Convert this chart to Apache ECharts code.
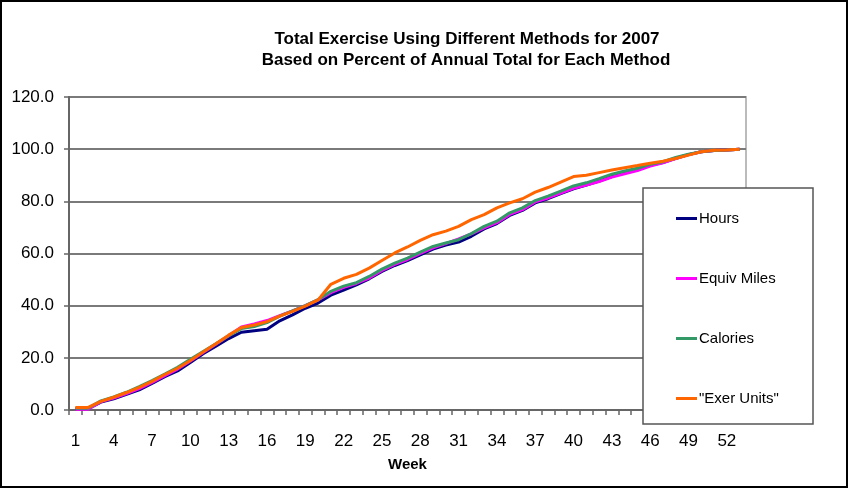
<!DOCTYPE html>
<html>
<head>
<meta charset="utf-8">
<script src="https://cdn.jsdelivr.net/npm/echarts@6/dist/echarts.min.js"></script>
<style>
html,body{margin:0;padding:0;background:#fff;}
#c{width:848px;height:488px;}
</style>
</head>
<body>
<div id="c"></div>
<script>
var weeks = ['1','2','3','4','5','6','7','8','9','10','11','12','13','14','15','16','17','18','19','20','21','22','23','24','25','26','27','28','29','30','31','32','33','34','35','36','37','38','39','40','41','42','43','44','45','46','47','48','49','50','51','52','53'];
var hours = [0.5,0.5,3.0,4.3,6.0,7.7,10.2,12.8,15.0,18.2,21.6,24.5,27.4,29.8,30.4,31.0,34.2,36.5,39.0,41.0,44.0,46.0,48.0,50.3,53.1,55.4,57.3,59.5,61.7,63.2,64.4,66.6,69.4,71.5,74.6,76.5,79.4,81.0,83.0,84.8,86.2,87.8,89.5,91.0,92.3,93.8,94.9,96.5,97.9,99.0,99.5,99.7,100.0];
var equivMiles = [0.3,0.3,3.2,4.6,6.3,8.2,10.6,13.2,15.7,18.8,22.0,25.2,28.5,31.8,33.0,34.3,36.2,38.0,40.0,42.2,45.0,47.0,48.5,50.6,53.5,55.8,57.7,60.0,62.2,63.8,65.6,67.5,69.8,71.8,75.0,76.8,79.8,81.3,83.2,85.0,86.2,87.6,89.3,90.6,91.8,93.5,94.8,96.4,97.9,99.0,99.5,99.7,100.0];
var calories = [0.7,0.7,3.5,5.0,6.8,9.0,11.3,13.8,16.4,19.4,22.4,25.4,28.5,31.2,32.0,33.5,36.0,38.0,40.0,42.3,45.5,47.5,48.8,51.2,54.0,56.3,58.2,60.5,62.7,64.0,65.3,67.6,70.4,72.4,75.6,77.5,80.3,82.0,83.9,85.9,87.1,88.7,90.4,91.6,92.7,94.2,95.2,96.8,98.1,99.0,99.5,99.7,100.0];
var exerUnits = [1.0,1.0,3.3,4.9,6.7,8.7,11.0,13.6,16.0,19.0,22.2,25.4,28.7,31.6,32.6,33.9,36.0,37.8,39.8,42.2,48.2,50.5,52.0,54.4,57.3,60.2,62.5,65.0,67.2,68.6,70.4,73.0,74.9,77.5,79.4,81.0,83.5,85.3,87.4,89.5,90.0,91.0,92.0,92.9,93.7,94.6,95.4,96.4,97.7,99.0,99.6,99.7,100.0];
var seriesNames = ['Hours','Equiv Miles','Calories','"Exer Units"'];
var seriesColors = ['#000080','#ff00ff','#339966','#ff6600'];
var titleLines = ['Total Exercise Using Different Methods for 2007','Based on Percent of Annual Total for Each Method'];

var FONT = '"Liberation Sans", Arial, Helvetica, sans-serif';
var chart = echarts.init(document.getElementById('c'), null, {renderer:'canvas'});
var dataSets = [hours, equivMiles, calories, exerUnits];
var series = dataSets.map(function(d,i){
  return {
    name: seriesNames[i], type:'line', data:d, symbol:'none', smooth:false,
    lineStyle:{color:seriesColors[i], width:3}, itemStyle:{color:seriesColors[i]},
    z: 2+i
  };
});
chart.setOption({
  animation:false,
  backgroundColor:'#ffffff',
  textStyle:{fontFamily:FONT},
  grid:{left:69, right:102, top:97, bottom:78, show:true, borderColor:'#bbbbbb', borderWidth:2, backgroundColor:'transparent'},
  xAxis:{
    type:'category', data:weeks, boundaryGap:true,
    name:'Week', nameLocation:'middle', nameGap:47,
    nameTextStyle:{fontFamily:FONT, fontSize:15, fontWeight:'bold', color:'#000'},
    axisLine:{lineStyle:{color:'#666666', width:2}},
    axisTick:{show:true, interval:0, length:5, lineStyle:{color:'#666666', width:1.5}},
    axisLabel:{interval:2, margin:23, fontFamily:FONT, fontSize:17, color:'#000'},
    splitLine:{show:false}
  },
  yAxis:{
    type:'value', min:0, max:120, interval:20,
    axisLine:{show:true, lineStyle:{color:'#666666', width:2}},
    axisTick:{show:true, length:5, lineStyle:{color:'#666666', width:1.5}},
    axisLabel:{margin:15, fontFamily:FONT, fontSize:17, color:'#000', formatter:function(v){return v.toFixed(1);}},
    splitLine:{show:true, lineStyle:{color:'#7a7a7a', width:2}}
  },
  legend:{
    orient:'vertical', left:676, top:211, padding:0, itemGap:45,
    itemWidth:21, itemHeight:3, icon:'rect',
    textStyle:{fontFamily:FONT, fontSize:15, color:'#000', lineHeight:15, padding:[0,0,0,-3]},
    data:seriesNames, z:101
  },
  graphic:[
    {type:'rect', z:100, shape:{x:643, y:188, width:170, height:236}, style:{fill:'#fff', stroke:'#555', lineWidth:1.5}},
    {type:'text', z:100, x:467, y:39, style:{text:titleLines[0], font:'bold 17px '+FONT, fill:'#000', textAlign:'center', textVerticalAlign:'middle'}},
    {type:'text', z:100, x:466, y:60, style:{text:titleLines[1], font:'bold 17px '+FONT, fill:'#000', textAlign:'center', textVerticalAlign:'middle'}},
    {type:'rect', z:100, shape:{x:1, y:1, width:846, height:486}, style:{fill:'none', stroke:'#000', lineWidth:2}}
  ],
  series:series
});
</script>
</body>
</html>
